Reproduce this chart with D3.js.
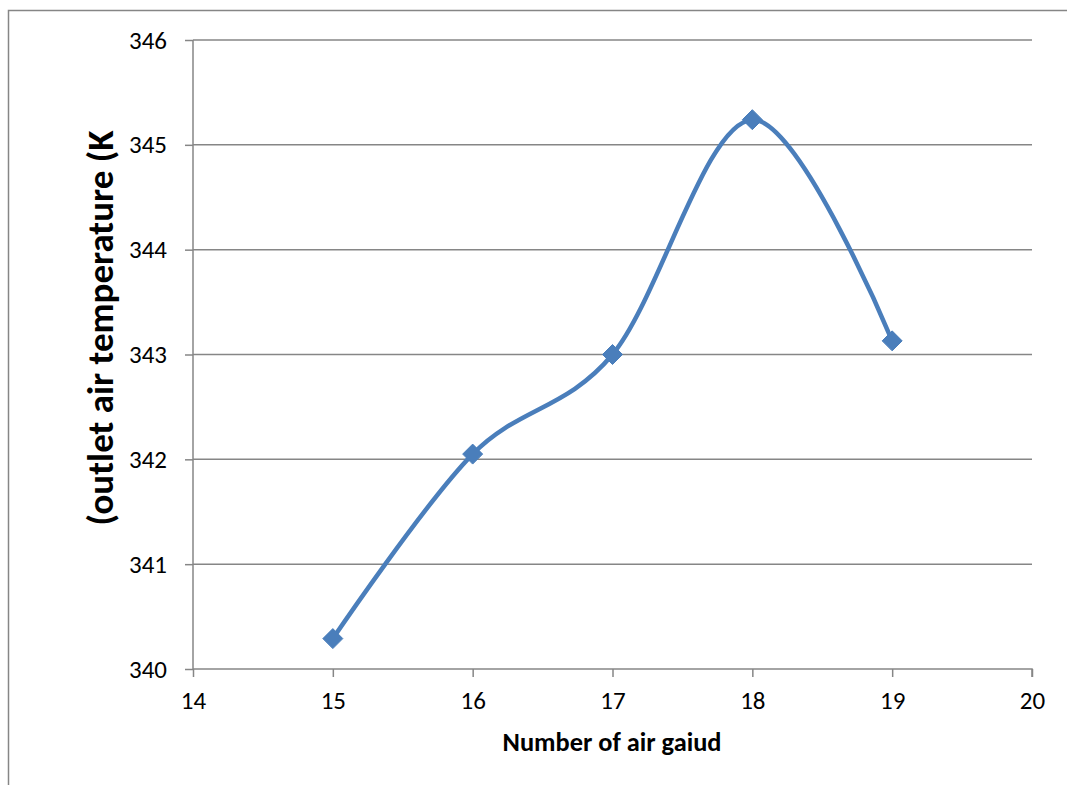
<!DOCTYPE html>
<html>
<head>
<meta charset="utf-8">
<script src="https://cdn.jsdelivr.net/npm/d3@7"></script>
<style>
  html, body { margin: 0; padding: 0; background: #fff; }
  svg { display: block; }
  text { font-family: Carlito, Calibri, Lato, "Open Sans", sans-serif; }
</style>
</head>
<body>
<svg id="chart" width="1067" height="785"></svg>
<script>
// Number of air guides vs. outlet air temperature
const guides = [15, 16, 17, 18, 19];
const outletTemp = [340.29, 342.05, 343.0, 345.24, 343.13];
const xTicks = [14, 15, 16, 17, 18, 19, 20];
const yTicks = [340, 341, 342, 343, 344, 345, 346];

const svg = d3.select("#chart");
const margin = { left: 193, top: 40, right: 1032, bottom: 669 };

const x = d3.scaleLinear().domain([14, 20]).range([margin.left, margin.right]);
const y = d3.scaleLinear().domain([340, 346]).range([margin.bottom, margin.top]);

const gridColor = "#868686";
const fontStack = "Carlito, Calibri, Lato, 'Open Sans', sans-serif";

// scale a text node's font so it spans a given width
function fitWidth(sel, width) {
  sel.attr("font-size", 100).style("font-size", "100px");
  const w = sel.node().getComputedTextLength();
  const fs = 100 * width / w;
  sel.attr("font-size", fs).style("font-size", fs + "px");
  return fs;
}

// outer frame (top and left edges)
svg.append("path")
  .attr("d", "M8.5,785 V10.5 H1067")
  .attr("fill", "none").attr("stroke", gridColor).attr("stroke-width", 1.5);

// horizontal gridlines
svg.append("g").selectAll("line")
  .data(yTicks.filter(d => d !== 340))
  .join("line")
  .attr("x1", margin.left).attr("x2", margin.right)
  .attr("y1", d => y(d)).attr("y2", d => y(d))
  .attr("stroke", gridColor).attr("stroke-width", 1.5);

// axes
const yAxis = svg.append("g")
  .attr("transform", `translate(${margin.left},0)`)
  .call(d3.axisLeft(y).tickValues(yTicks).tickSize(8).tickPadding(18).tickFormat(d3.format("d")));
const xAxis = svg.append("g")
  .attr("transform", `translate(0,${margin.bottom})`)
  .call(d3.axisBottom(x).tickValues(xTicks).tickSize(8).tickPadding(14).tickFormat(d3.format("d")));

// size tick labels so "346" is about 38px wide
const probe = svg.append("text").style("font-family", fontStack).text("346");
const tickFs = fitWidth(probe, 38);
probe.remove();

[yAxis, xAxis].forEach(g => {
  g.attr("font-family", fontStack).attr("font-size", tickFs);
  g.select(".domain").attr("stroke", gridColor).attr("stroke-width", 1.5);
  g.selectAll(".tick line").attr("stroke", gridColor).attr("stroke-width", 1.5);
  g.selectAll(".tick text")
    .attr("fill", "#000")
    .style("font-family", fontStack)
    .style("font-size", tickFs + "px");
});
yAxis.select(".domain").attr("d", `M0,${margin.bottom}V${margin.top}`);
xAxis.select(".domain").attr("d", `M${margin.left},0H${margin.right}V8`);

// smoothed series line
const pts = guides.map((g, i) => [x(g), y(outletTemp[i])]);
svg.append("path")
  .attr("d", d3.line().curve(d3.curveCardinal.tension(0))(pts))
  .attr("fill", "none")
  .attr("stroke", "#4a7ebb")
  .attr("stroke-width", 4.5)
  .attr("stroke-linecap", "round");

// diamond markers
svg.append("g").selectAll("path")
  .data(pts)
  .join("path")
  .attr("transform", d => `translate(${d[0]},${d[1]})`)
  .attr("d", "M0,-10 L10,0 L0,10 L-10,0 Z")
  .attr("fill", "#4a7ebb")
  .attr("stroke", "#4a7ebb")
  .attr("stroke-width", 1);

// axis titles
const xTitle = svg.append("text")
  .attr("x", 612)
  .attr("y", 751)
  .attr("text-anchor", "middle")
  .style("font-family", fontStack)
  .style("font-weight", "bold")
  .text("Number of air gaiud");
fitWidth(xTitle, 219);

const yTitle = svg.append("text")
  .attr("transform", "translate(113,328) rotate(-90)")
  .attr("text-anchor", "middle")
  .style("font-family", fontStack)
  .style("font-weight", "bold")
  .text("(outlet air temperature (K");
fitWidth(yTitle, 395);
</script>
</body>
</html>
